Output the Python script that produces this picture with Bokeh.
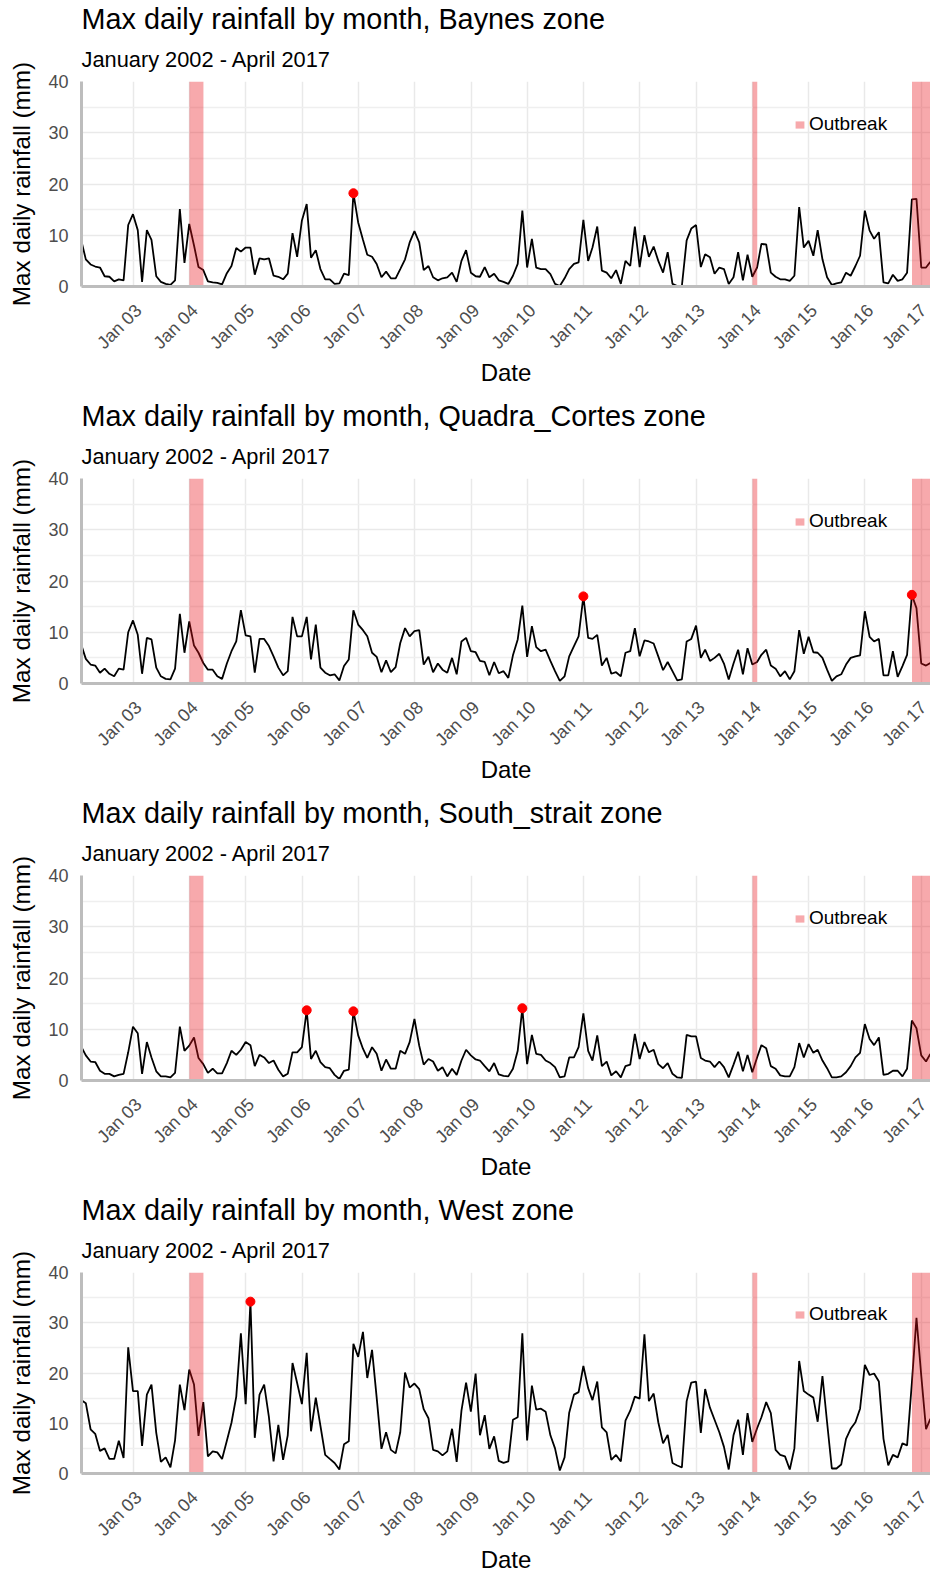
import math
from datetime import datetime
import pandas as pd
from bokeh.plotting import figure
from bokeh.layouts import column
from bokeh.models import (ColumnDataSource, Range1d, FixedTicker, Title, Legend,
                          LegendItem, DatetimeTickFormatter)
from bokeh.embed import file_html
from bokeh.resources import INLINE

# ---------------- data (monthly max daily rainfall, mm; Jan 2002 onward) ----------------
zones = ["Baynes", "Quadra_Cortes", "South_strait", "West"]
subtitle = "January 2002 - April 2017"

baynes = [
    8.8, 5.3, 4.3, 3.9, 3.7, 2.0, 1.9, 1.0, 1.4, 1.2, 12.0, 14.1,
    11.0, 0.9, 11.0, 9.1, 2.0, 0.9, 0.5, 0.3, 1.2, 15.1, 4.6, 12.2,
    8.0, 3.8, 3.2, 1.0, 0.8, 0.7, 0.4, 2.6, 4.0, 7.5, 6.8, 7.6,
    7.6, 2.3, 5.5, 5.3, 5.5, 2.1, 1.9, 1.4, 2.5, 10.4, 5.8, 12.9,
    16.1, 5.6, 7.1, 3.4, 1.4, 1.4, 0.5, 0.6, 2.5, 2.2, 18.2, 12.5,
    9.1, 6.2, 5.8, 4.4, 1.8, 2.9, 1.6, 1.6, 3.4, 5.3, 8.6, 10.8,
    8.6, 3.2, 4.0, 1.8, 1.2, 1.6, 1.8, 2.7, 0.9, 5.0, 7.1, 2.7,
    2.0, 1.9, 3.8, 1.8, 2.5, 1.2, 0.9, 0.5, 2.1, 4.4, 14.8, 3.7,
    9.3, 3.7, 3.4, 3.4, 2.4, 0.5, 0.1, 1.6, 3.4, 4.4, 4.7, 13.0,
    5.0, 7.6, 11.7, 3.1, 2.7, 1.6, 3.2, 0.5, 5.0, 4.0, 11.7, 3.8,
    10.0, 5.8, 7.8, 5.0, 2.7, 6.7, 0.5, 0.1, 0.1, 9.0, 11.3, 12.0,
    3.8, 6.3, 5.7, 2.5, 3.7, 3.4, 0.5, 1.8, 6.7, 1.2, 6.2, 1.9,
    3.7, 8.3, 8.2, 2.7, 1.9, 1.4, 1.4, 1.1, 2.1, 15.5, 7.6, 8.9,
    6.0, 11.0, 5.3, 1.8, 0.3, 0.6, 0.8, 2.7, 2.1, 4.0, 6.0, 14.8,
    10.9, 9.3, 10.6, 0.8, 0.6, 2.3, 1.1, 1.4, 2.7, 17.0, 17.1, 3.7,
    3.7, 4.8,
]

quadra_cortes = [
    7.4, 4.8, 3.7, 3.5, 2.1, 2.9, 1.9, 1.4, 2.9, 2.7, 10.0, 12.3,
    9.5, 1.9, 8.9, 8.6, 3.1, 1.4, 0.9, 0.8, 2.9, 13.6, 6.0, 12.1,
    7.4, 6.0, 4.0, 2.7, 2.7, 1.4, 0.9, 3.9, 6.3, 8.2, 14.3, 9.4,
    9.2, 2.1, 8.7, 8.7, 7.3, 5.3, 3.1, 1.6, 2.4, 13.0, 9.2, 9.2,
    13.0, 4.7, 11.5, 3.1, 2.1, 1.6, 1.8, 0.6, 3.4, 4.7, 14.3, 11.5,
    10.4, 9.2, 6.0, 5.2, 2.2, 4.5, 2.2, 3.2, 7.9, 10.8, 9.2, 10.2,
    10.4, 3.7, 5.2, 2.2, 3.9, 2.7, 2.1, 5.0, 1.8, 8.2, 8.9, 6.3,
    6.1, 4.4, 4.2, 1.6, 4.2, 2.0, 2.4, 1.1, 5.5, 8.6, 15.2, 5.2,
    11.2, 7.1, 6.3, 6.6, 4.4, 2.4, 0.5, 1.4, 5.3, 7.3, 9.2, 17.0,
    8.9, 8.7, 9.5, 3.5, 5.0, 1.9, 2.2, 1.4, 6.0, 6.3, 10.8, 5.3,
    8.4, 8.2, 7.8, 5.3, 2.6, 4.2, 2.4, 0.6, 0.8, 8.2, 8.7, 11.3,
    5.0, 6.6, 4.4, 5.0, 5.8, 3.9, 0.8, 3.9, 6.6, 1.8, 6.9, 3.7,
    4.2, 5.6, 6.6, 3.5, 2.9, 1.4, 2.4, 0.8, 2.4, 10.4, 5.8, 9.1,
    6.1, 6.0, 5.0, 2.7, 0.5, 1.4, 1.8, 3.7, 5.0, 5.3, 5.5, 14.1,
    9.1, 8.2, 8.7, 1.6, 1.6, 6.3, 1.3, 3.4, 5.6, 17.3, 14.7, 3.9,
    3.5, 4.0,
]

south_strait = [
    6.5, 4.9, 3.7, 3.6, 1.9, 1.3, 1.3, 0.8, 1.1, 1.3, 5.5, 10.5,
    9.2, 1.3, 7.5, 4.5, 1.8, 0.8, 0.8, 0.6, 1.5, 10.5, 5.8, 6.8,
    8.4, 4.4, 3.2, 1.5, 2.3, 1.4, 1.4, 3.4, 5.8, 5.0, 6.0, 7.5,
    6.9, 2.8, 5.0, 4.5, 3.4, 3.9, 2.1, 0.8, 1.3, 5.5, 5.5, 6.5,
    13.7, 4.2, 5.8, 3.6, 2.6, 2.4, 1.1, 0.3, 1.9, 2.1, 13.5, 8.8,
    6.2, 4.4, 6.5, 5.2, 1.9, 4.1, 2.3, 2.3, 5.8, 5.2, 7.5, 12.0,
    6.8, 3.1, 4.2, 3.7, 1.9, 2.6, 0.8, 2.3, 1.1, 3.9, 6.0, 4.9,
    4.1, 3.9, 2.8, 1.8, 3.4, 1.2, 0.9, 0.8, 2.3, 5.8, 14.1, 3.2,
    8.9, 5.2, 5.0, 3.9, 3.4, 2.6, 0.6, 0.8, 4.5, 4.5, 6.5, 13.1,
    5.8, 3.9, 8.8, 2.8, 3.7, 1.0, 1.8, 0.6, 2.8, 3.1, 9.1, 4.2,
    7.5, 5.5, 6.0, 3.2, 2.4, 3.4, 1.3, 0.6, 0.5, 8.9, 8.6, 8.6,
    4.4, 3.9, 3.7, 2.6, 3.7, 2.6, 0.6, 3.1, 5.6, 1.8, 5.0, 1.6,
    4.5, 6.9, 6.3, 2.8, 2.3, 1.0, 0.8, 0.8, 2.6, 7.3, 4.5, 7.1,
    5.4, 6.0, 3.9, 2.4, 0.6, 0.6, 0.8, 1.6, 2.8, 4.5, 5.4, 11.0,
    8.1, 6.9, 8.4, 1.1, 1.3, 1.9, 1.9, 0.8, 2.3, 11.7, 10.2, 4.9,
    3.7, 5.2,
]

west = [
    14.6, 14.0, 8.8, 7.9, 4.5, 5.0, 2.9, 2.9, 6.5, 3.1, 25.1, 16.4,
    16.4, 5.5, 15.7, 17.7, 8.1, 2.3, 3.2, 1.2, 6.6, 17.7, 12.6, 20.7,
    17.7, 7.5, 14.2, 3.4, 4.4, 4.2, 2.9, 6.5, 10.1, 15.3, 27.9, 13.8,
    34.2, 7.1, 15.7, 17.7, 11.2, 2.4, 9.7, 2.7, 7.6, 22.0, 18.0, 13.8,
    24.0, 8.4, 15.1, 9.5, 3.7, 2.9, 2.1, 0.8, 5.8, 6.4, 25.8, 23.2,
    28.2, 19.0, 24.6, 15.1, 4.9, 8.2, 4.7, 4.0, 8.2, 20.1, 17.1, 17.9,
    16.8, 12.8, 11.0, 4.7, 4.4, 3.6, 4.4, 8.9, 2.3, 12.5, 18.1, 12.3,
    19.9, 7.6, 11.6, 4.9, 7.4, 2.5, 2.1, 2.4, 10.7, 11.2, 27.9, 6.6,
    17.5, 12.7, 12.9, 12.3, 7.6, 5.0, 0.6, 3.2, 12.1, 15.7, 16.2, 21.4,
    17.0, 14.6, 18.3, 9.2, 8.2, 2.7, 3.7, 2.4, 10.5, 12.5, 15.3, 14.9,
    27.7, 14.4, 15.9, 10.2, 6.0, 7.7, 2.1, 1.6, 1.2, 14.4, 18.1, 18.3,
    8.1, 16.8, 13.1, 10.7, 8.2, 5.3, 0.8, 7.6, 10.7, 3.7, 12.0, 6.3,
    9.0, 11.2, 14.2, 12.0, 4.7, 3.7, 3.4, 0.8, 5.0, 22.4, 16.4, 15.7,
    15.1, 10.3, 19.4, 10.2, 1.0, 1.0, 1.8, 6.9, 8.9, 10.2, 12.9, 21.6,
    19.6, 19.9, 18.3, 6.9, 1.6, 3.7, 3.2, 6.0, 5.6, 18.0, 31.0, 19.5,
    8.8, 10.9,
]

series = [baynes, quadra_cortes, south_strait, west]

# highlighted months (red points), "YYYY-MM"
highlights = [
    ["2006-11"],
    ["2010-12", "2016-10"],
    ["2006-01", "2006-11", "2009-11"],
    ["2005-01"],
]

# outbreak periods
outbreak_start = ["2004-01-01", "2014-01-01", "2016-11-01"]
outbreak_end = ["2004-04-01", "2014-02-01", "2017-04-30"]

tick_years = list(range(2003, 2018))
tick_labels = ["Jan 03", "Jan 04", "Jan 05", "Jan 06", "Jan 07", "Jan 08", "Jan 09",
               "Jan 10", "Jan 11", "Jan 12", "Jan 13", "Jan 14", "Jan 15", "Jan 16", "Jan 17"]
y_major = [0, 10, 20, 30, 40]
y_minor = [5, 15, 25, 35]

# ---------------- helpers ----------------
FONT = "Liberation Sans"
DAY = 86400000


def to_ms(ts):
    return int(pd.Timestamp(ts).value // 10**6)


def month_dates(n):
    start = pd.Timestamp(2002, 1, 31)
    return [(start + pd.offsets.MonthEnd(i)).to_pydatetime() for i in range(n)]


grid_ticks = [to_ms(f"{y}-01-01") for y in tick_years]
# rotated labels hang slightly right of their gridline (ggplot hjust=1)
label_ticks = [t + 35 * DAY for t in grid_ticks]
overrides = {t: lab for t, lab in zip(label_ticks, tick_labels)}

X0 = datetime(2002, 1, 31)
X1 = datetime(2017, 3, 1)

PANEL_H = [397, 397, 397, 384]
FRAME_TOP = 81.5
FRAME_H = 204.4
AXIS_NATURAL = 101


def make_panel(zone, values, hl, height):
    dates = month_dates(len(values))
    src = ColumnDataSource(dict(date=dates, value=values))

    idx = [(int(s[:4]) - 2002) * 12 + int(s[5:7]) - 1 for s in hl]
    pts = ColumnDataSource(dict(date=[dates[i] for i in idx], value=[values[i] for i in idx]))

    bands = ColumnDataSource(dict(
        left=[pd.Timestamp(s).to_pydatetime() for s in outbreak_start],
        right=[pd.Timestamp(s).to_pydatetime() for s in outbreak_end],
    ))

    bottom = int(round(height - FRAME_TOP - FRAME_H))
    frame_h = height - FRAME_TOP - max(bottom, AXIS_NATURAL)

    p = figure(width=930, height=height, x_axis_type="datetime",
               x_range=Range1d(X0, X1), y_range=Range1d(0, 40),
               output_backend="svg", toolbar_location=None,
               min_border_left=81, min_border_right=0,
               min_border_top=0, min_border_bottom=bottom)
    p.outline_line_color = None
    p.background_fill_color = "white"
    p.border_fill_color = "white"

    p.line("date", "value", source=src, line_color="black", line_width=1.8)
    band_r = p.quad(left="left", right="right", bottom=0, top=40, source=bands,
                    fill_color="#e8101a", fill_alpha=0.36, line_color=None)
    p.scatter("date", "value", source=pts, size=9, fill_color="red", line_color="red")

    # titles
    sub = Title(text=subtitle, text_font=FONT, text_font_size="21.8px",
                text_font_style="normal", text_color="black", align="left",
                offset=0, standoff=19)
    main = Title(text=f"Max daily rainfall by month, {zone} zone", text_font=FONT,
                 text_font_size="28.8px", text_font_style="normal", text_color="black",
                 align="left", offset=0, standoff=1)
    p.add_layout(sub, "above")
    p.add_layout(main, "above")

    # axes
    xa = p.xaxis[0]
    xa.ticker = FixedTicker(ticks=label_ticks)
    xa.formatter = DatetimeTickFormatter(years="%b %y", months="%b %y", days="%b %y")
    xa.major_label_overrides = overrides
    xa.major_label_orientation = math.pi / 4
    xa.axis_label = "Date"
    ya = p.yaxis[0]
    ya.ticker = FixedTicker(ticks=y_major, minor_ticks=y_minor)
    ya.axis_label = "Max daily rainfall (mm)"

    for ax in (xa, ya):
        ax.axis_line_color = "#bdbdbd"
        ax.axis_line_width = 3
        ax.major_tick_line_color = None
        ax.minor_tick_line_color = None
        ax.major_tick_out = 0
        ax.major_tick_in = 0
        ax.minor_tick_out = 0
        ax.minor_tick_in = 0
        ax.major_label_text_font = FONT
        ax.major_label_text_font_size = "18px"
        ax.major_label_text_color = "#4d4d4d"
        ax.axis_label_text_font = FONT
        ax.axis_label_text_font_style = "normal"
        ax.axis_label_text_color = "black"
    xa.axis_label_text_font_size = "24px"
    ya.axis_label_text_font_size = "24.3px"
    xa.major_label_standoff = 21
    xa.axis_label_standoff = -4
    ya.major_label_standoff = 13
    ya.axis_label_standoff = 10

    p.xgrid.ticker = FixedTicker(ticks=grid_ticks)
    p.xgrid.grid_line_color = "#e9e9e9"
    p.xgrid.grid_line_width = 1.5
    p.ygrid.ticker = FixedTicker(ticks=y_major, minor_ticks=y_minor)
    p.ygrid.grid_line_color = "#e9e9e9"
    p.ygrid.grid_line_width = 1.5
    p.ygrid.minor_grid_line_color = "#efefef"
    p.ygrid.minor_grid_line_width = 1.3

    legend_bottom = int(round(frame_h - 41.7 - 12))
    legend = Legend(items=[LegendItem(label="Outbreak", renderers=[band_r])],
                    location=(713, legend_bottom), orientation="vertical",
                    background_fill_alpha=0, border_line_color=None,
                    label_text_font=FONT, label_text_font_size="19px",
                    label_text_color="black", glyph_width=11, glyph_height=9,
                    label_standoff=4, padding=0, margin=0, spacing=0)
    p.add_layout(legend)
    return p


panels = [make_panel(z, s, h, H) for z, s, h, H in zip(zones, series, highlights, PANEL_H)]
layout = column(*panels, spacing=0)

open("out.html", "w").write(file_html(layout, INLINE))
